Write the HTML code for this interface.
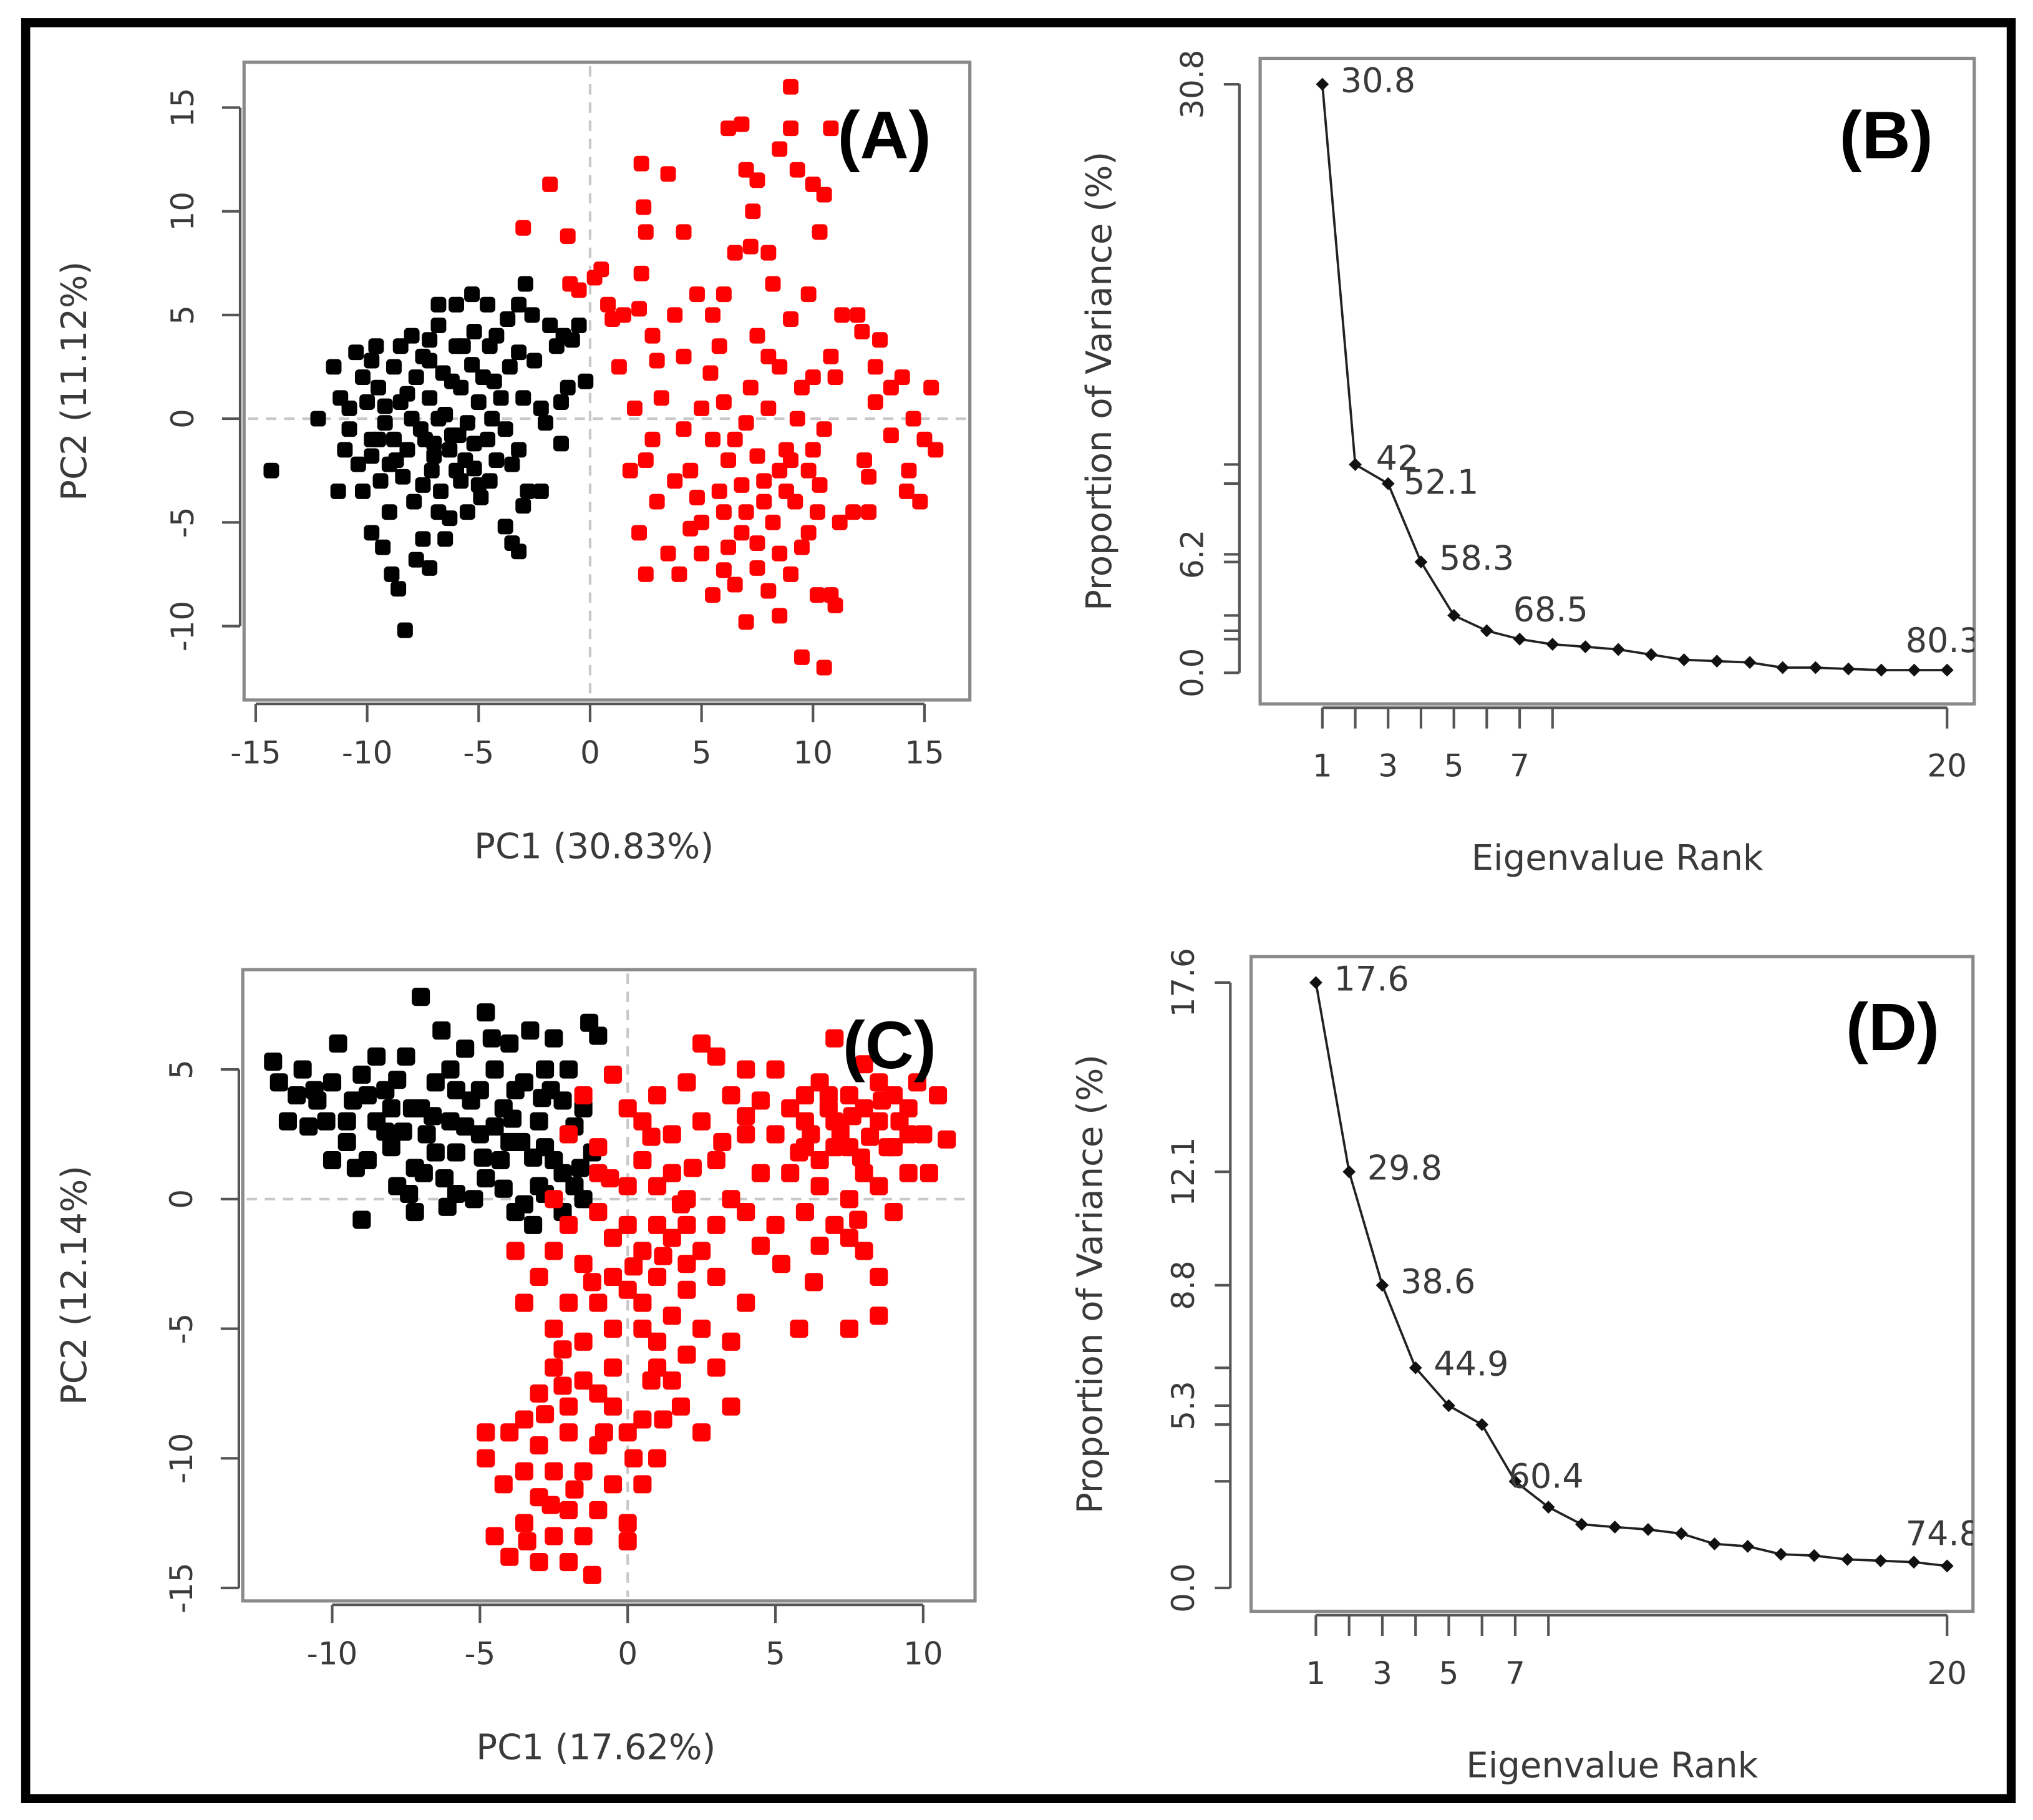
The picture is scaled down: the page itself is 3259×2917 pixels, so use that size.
<!DOCTYPE html>
<html><head><meta charset="utf-8">
<style>
html,body{margin:0;padding:0;background:#fff;}
svg{display:block;font-family:"DejaVu Sans","Liberation Sans",sans-serif;}
.tk{font-size:24px;fill:#3a3a3a;}
.ttl{font-size:27px;fill:#3a3a3a;}
.pl{font-size:52px;font-weight:bold;fill:#000;font-family:"Liberation Sans",sans-serif;}
</style></head>
<body>
<svg id="fig" width="3259" height="2917" viewBox="0 0 1568 1404" xmlns="http://www.w3.org/2000/svg">
<rect x="19.5" y="17.5" width="1532" height="1370" fill="#fff" stroke="#000" stroke-width="7"/>
</svg>
<script>
// ---------- DATA ----------
const aBlack = [[-14.3,-2.5],[-12.2,0],[-11.5,2.5],[-11.2,1],[-11,-1.5],[-11.3,-3.5],[-10.5,3.2],[-10.8,-0.5],[-10.2,2],[-10,0.8],[-10.4,-2.2],[-9.8,-1],[-9.6,3.5],[-9.5,1.5],[-9.2,-0.2],[-9.4,-3],[-9,-4.5],[-9.8,-5.5],[-9.3,-6.2],[-8.9,-7.5],[-8.6,-8.2],[-8.3,-10.2],[-8.8,2.5],[-8.5,0.8],[-8.2,-1.5],[-8.4,-2.8],[-8,4],[-7.8,2],[-7.6,-0.5],[-7.9,-4],[-7.5,-5.8],[-7.8,-6.8],[-7.2,-7.2],[-7.5,3],[-7.2,1],[-7,-1.2],[-7.1,-2.5],[-6.8,4.5],[-6.6,2.2],[-6.5,0.2],[-6.7,-3.5],[-6.3,-4.8],[-6.5,-5.8],[-6,5.5],[-6,3.5],[-5.8,1.5],[-5.9,-0.8],[-5.6,-2],[-5.8,-3],[-5.3,6],[-5.2,4.2],[-5.3,2.6],[-5,0.8],[-5.2,-1.2],[-4.9,-3.8],[-5.5,-4.5],[-4.6,5.5],[-4.5,3.5],[-4.3,1.8],[-4.4,0],[-4.2,-2],[-4.5,-3],[-3.8,-5.2],[-3.5,-6],[-3.2,-6.4],[-3.7,4.8],[-3.6,2.5],[-3.8,-0.5],[-3.2,3.2],[-3,1],[-3.2,-1.5],[-2.8,-3.5],[-3,-4.2],[-2.6,5],[-2.5,2.8],[-2.2,0.5],[-2,-0.2],[-1.8,4.5],[-1.5,3.5],[-1.3,0.8],[-1.2,4],[-0.8,3.8],[-0.5,4.5],[-2.9,6.5],[-1.3,-1.2],[-2.2,-3.5],[-1,1.5],[-0.2,1.8],[-6.3,-1.5],[-7.5,-3.2],[-8.7,-2],[-9.8,-1.8],[-10.8,0.5],[-9.5,-1],[-8,0],[-6.8,0],[-5.5,-0.2],[-4,1],[-4.8,2],[-6.2,1.8],[-7.2,3.8],[-8.5,3.5],[-10.2,-3.5],[-9,-2.2],[-7,-1.8],[-6,-2.5],[-5,-3.2],[-3.5,-2.2],[-5.7,3.5],[-6.8,5.5],[-4.2,4],[-3.2,5.5],[-8.2,1.2],[-7.4,-1],[-6.2,-0.8],[-9.2,0.6],[-8.8,-1],[-5.2,-2.4],[-4.6,-1],[-6.8,-4.5],[-7.2,2.8],[-9.8,2.8]];
const aRed = [[-3,9.2],[-1.8,11.3],[-1,8.8],[-0.9,6.5],[0.2,6.8],[0.5,7.2],[1.5,5],[0.8,5.5],[-0.5,6.2],[1,4.8],[1.3,2.5],[2.2,5.3],[2.3,7],[2.5,9],[2.4,10.2],[2.3,12.3],[2.8,4],[3.5,11.8],[3.8,5],[4.2,9],[4.8,6],[5.5,5],[5.8,3.5],[5.4,2.2],[6,6],[6.5,8],[6.2,14],[6.8,14.2],[7,12],[7.5,11.5],[7.3,10],[7.2,8.3],[8,8],[8.5,13],[9,14],[9,16],[9.3,12],[10,11.3],[10.8,14],[10.5,10.8],[10.3,9],[8.2,6.5],[12,5],[12.2,4.2],[13,3.8],[12.8,2.5],[13.5,1.5],[14,2],[14.5,0],[15,-1],[15.5,-1.5],[15.3,1.5],[14.2,-3.5],[14.3,-2.5],[13.5,-0.8],[12.5,-4.5],[11.8,-4.5],[12.3,-2],[11,2],[10,2],[9.5,1.5],[8.5,2.5],[8,3],[7.5,4],[9,4.8],[9.8,6],[11.3,5],[10.8,3],[3.2,1],[2,0.5],[2.5,-2],[1.8,-2.5],[2.2,-5.5],[3,-4],[3.5,-6.5],[4,-7.5],[2.5,-7.5],[5,-5],[5.8,-3.5],[6.2,-2],[7,-4.5],[7.5,-6],[6,-7.3],[6.5,-8],[7.5,-7.2],[8.5,-6.5],[9,-7.5],[9.2,-4],[8.5,-2.5],[8,0.5],[9.3,0],[10,-1.5],[10.3,-3.2],[9.8,-5.5],[10.2,-8.5],[10.8,-8.5],[11,-9],[9.5,-11.5],[10.5,-12],[7,-9.8],[8.5,-9.5],[5,-6.5],[4.5,-5.3],[5.5,-8.5],[6.8,-5.5],[7.8,-3],[6.5,-1],[5.5,-1],[4.5,-2.5],[3.8,-3],[4.2,-0.5],[5,0.5],[6,0.8],[7,-0.2],[8.8,-1.5],[9.8,-2.5],[10.5,-0.5],[7.5,-1.8],[6.8,-3.2],[8.2,-5],[9.5,-6.2],[6,-4.5],[4.8,-3.8],[7.2,1.5],[3,2.8],[2.8,-1],[4.2,3],[11.2,-5],[12.5,-2.8],[14.8,-4],[8,-8.3],[12.8,0.8],[7.8,-4],[8.8,-3.5],[6.2,-6.2],[9,-2],[10.2,-4.5]];
const cBlack = [[-12,5.3],[-11.8,4.5],[-11.2,4],[-11,5],[-10.5,3.8],[-10.8,2.8],[-10,4.5],[-10.2,3],[-9.8,6],[-9.5,2.2],[-9.3,3.8],[-9,4.8],[-8.8,1.5],[-8.5,3],[-8.2,4.2],[-8,2],[-7.8,0.5],[-7.5,5.5],[-7.3,3.5],[-7.2,1.2],[-7,7.8],[-6.8,2.5],[-6.5,4.5],[-6.3,6.5],[-6.2,0.8],[-6,3],[-5.8,1.8],[-5.5,5.8],[-5.3,3.8],[-5.2,0],[-5,2.5],[-4.8,7.2],[-4.5,5],[-4.3,1.5],[-4.2,3.5],[-4,6],[-3.8,-0.5],[-3.6,2.2],[-3.5,4.5],[-3.3,6.5],[-3,0.5],[-3,3],[-2.8,5],[-2.5,1.5],[-2.5,6.2],[-2.2,3.8],[-2.2,-0.5],[-2,2.5],[-2,5],[-1.8,0.5],[-1.5,3.5],[-1.3,6.8],[-1,6.3],[-1.2,1.8],[-9,-0.8],[-7.2,-0.5],[-5.8,0.2],[-3.2,-1],[-11.5,3],[-10,1.5],[-8.5,5.5],[-7,3.5],[-6,5],[-4.5,2.8],[-3.8,4.2],[-2.8,2],[-1.5,0],[-2.2,1],[-5,4.2],[-8,3.5],[-6.5,1.8],[-4.8,0.8],[-3.5,-0.2],[-9.5,3],[-8.8,4],[-7.6,2.6],[-6.9,1],[-5.5,2.8],[-4,2.2],[-3.2,1.6],[-2.6,4.2],[-4.6,6.2],[-9.2,1.2],[-8.2,2.6],[-7.8,4.6],[-6.6,3.2],[-5.8,4.2],[-4.9,1.6],[-3.9,3.1],[-2.9,3.9],[-1.8,2.8],[-10.6,4.2],[-7.4,0.2],[-6.1,-0.3],[-4.2,0.4],[-2.8,0.2],[-1.6,1.2]];
const cRed = [[-1.5,4],[-1,2],[-0.5,4.8],[0,3.5],[0.5,1.5],[1,4],[1.5,2.5],[2,4.5],[2.5,3],[2.5,6],[3,1.5],[3.5,4],[4,2.5],[4.5,3.8],[5,5],[5.5,1],[5,2.5],[6,3],[6.5,4.5],[6.5,1.5],[7,3],[7,6.2],[7.5,2],[7.5,4],[8,5.2],[8,1],[8.5,3],[8.5,4.5],[9,2],[9,-0.5],[9.5,3.5],[9.5,1],[10,2.5],[10.5,4],[10.8,2.3],[6,-0.5],[6.5,-1.8],[7,-1],[7.5,-1.5],[8,-2],[8.5,-3],[6.3,-3.2],[5.8,-5],[7.5,-5],[8.5,-4.5],[5,-1],[4,-0.5],[3,-1],[2,0],[1,0.5],[0,0.5],[-1,-0.5],[-2,-1],[-2.5,-2],[-1.5,-2.5],[-0.5,-1.5],[0.5,-2],[1.5,-1.5],[2.5,-2],[3,-3],[2,-3.5],[1,-3],[0,-3.5],[-1,-4],[-2,-4],[-3,-3],[-3.8,-2],[-3.5,-4],[-2.5,-5],[-1.5,-5.5],[-0.5,-5],[0.5,-5],[1.5,-4.5],[2.5,-5],[3.5,-5.5],[4,-4],[3,-6.5],[2,-6],[1,-6.5],[-0.5,-6.5],[-1.5,-7],[-2.5,-6.5],[2.5,-9],[3.5,-8],[1.8,-8],[0.5,-8.5],[0.2,-10],[-1,-7.5],[-2,-8],[-3,-7.5],[-3.5,-8.5],[-4,-9],[-4.8,-9],[-3,-9.5],[-2,-9],[-1,-9.5],[0,-9],[-0.5,-11],[-1.5,-10.5],[-2.5,-10.5],[-3.5,-10.5],[-4.2,-11],[-3,-11.5],[-2,-12],[-1,-12],[0,-12.5],[0.5,-11],[-1.5,-13],[-2.5,-13],[-3.5,-12.5],[-4.5,-13],[-3,-14],[-2,-14],[-1.2,-14.5],[-4,-13.8],[0,-13.2],[-4.8,-10],[1.2,-8.5],[1,-10],[0.8,-7],[-2.8,-8.3],[-1.8,-11.2],[-2.2,-7.2],[7,2],[8,3.5],[9,4],[6,2],[5.5,3.5],[7.5,0],[8.5,0.5],[4.5,1],[3.5,0],[6.5,0.5],[9.8,4.5],[10.2,1],[7.8,-0.8],[0,-1],[1,-1],[2,-1],[-1,1],[0.5,3],[1.5,1],[-0.5,-3],[0.5,-4],[2,-2.5],[1,-5.5],[-2.5,0],[-2,2.5],[3,5.5],[4,5],[6,4],[8.8,2],[9.5,2.5],[6.8,3.5],[5.2,-2.5],[4.5,-1.8],[1.5,-7],[-0.5,-8],[7.2,2.6],[8.2,2.4],[6.8,4],[7.6,3.2],[8.6,3.8],[9.2,3],[7.9,1.6],[6.2,2.5],[5.8,1.8],[4,3.2],[3.2,2.2],[2.2,1.2],[0.8,2.4],[-0.6,0.8],[1.8,-0.2],[0.2,-2.6],[-1.2,-3.2],[1.2,-2.2],[-2.2,-5.8],[-0.8,-9],[-2.6,-11.8],[-3.4,-13.2]];
const ranksB = [1,2,3,4,5,6,7,8,9,10,11,12,13,14,15,16,17,18,19,20];
const varB = [30.8,10.9,9.9,5.8,3.0,2.2,1.76,1.49,1.36,1.22,0.95,0.68,0.61,0.54,0.27,0.27,0.2,0.14,0.14,0.14];
const cumLabelsB = [["30.8",1],["42",2],["52.1",3],["58.3",4],["68.5",7],["80.3",20]];
const varD = [17.6,12.1,8.8,6.4,5.3,4.75,3.1,2.35,1.85,1.77,1.70,1.58,1.28,1.21,0.98,0.94,0.83,0.79,0.75,0.64];
const cumLabelsD = [["17.6",1],["29.8",2],["38.6",3],["44.9",4],["60.4",7],["74.8",20]];
const ticksAX = [-15,-10,-5,0,5,10,15], ticksAY = [-10,-5,0,5,10,15];
const ticksCX = [-10,-5,0,5,10], ticksCY = [-15,-10,-5,0,5];
const ticksBY = [0,6.2,30.8], ticksDY = [0,5.3,8.8,12.1,17.6];
const rankTickLabels = [1,3,5,7,20];

// ---------- DRAW ----------
const svg = document.getElementById('fig');
const NS = 'http://www.w3.org/2000/svg';
function mk(tag, attrs, parent){ const e=document.createElementNS(NS,tag); for(const k in attrs) e.setAttribute(k,attrs[k]); (parent||svg).appendChild(e); return e; }
function lin(d0,d1,p0,p1){ return v => p0 + (v-d0)*(p1-p0)/(d1-d0); }

function scatterPanel(id, box, sx, sy, xt, yt, blk, red, xTitle, yTitle, ms, label, lx, ly){
  const g = mk('g',{});
  
  
  const fr = mk('rect',{x:box[0],y:box[1],width:box[2]-box[0],height:box[3]-box[1],fill:'#fff',stroke:'#8a8a8a','stroke-width':2.5},g);
  
  
  const v0 = mk('line',{x1:sx(0),x2:sx(0),y1:box[1]+3,y2:box[3]-3,stroke:'#c8c8c8','stroke-width':2,'stroke-dasharray':'8 6'},g);
  
  
  const h0 = mk('line',{x1:box[0]+3,x2:box[2]-3,y1:sy(0),y2:sy(0),stroke:'#c8c8c8','stroke-width':2,'stroke-dasharray':'8 6'},g);
  
  
  const draw=(pts,col,nm)=>{ for(const p of pts){ const r=mk('rect',{x:sx(p[0])-ms/2,y:sy(p[1])-ms/2,width:ms,height:ms,rx:3,fill:col},g);
    
     } };
  draw(blk,'#000',id+'-black-point');
  draw(red,'#f00',id+'-red-point');
  const ay = box[3]+3;
  const xa = mk('line',{x1:sx(xt[0]),x2:sx(xt[xt.length-1]),y1:ay,y2:ay,stroke:'#555','stroke-width':2},g);
  
  
  for(const t of xt){ mk('line',{x1:sx(t),x2:sx(t),y1:ay,y2:ay+14,stroke:'#555','stroke-width':2},g);
    const tx=mk('text',{x:sx(t),y:ay+46,'text-anchor':'middle',class:'tk'},g); tx.textContent=t;
    
     }
  const ax = box[0]-3;
  const ya = mk('line',{x1:ax,x2:ax,y1:sy(yt[0]),y2:sy(yt[yt.length-1]),stroke:'#555','stroke-width':2},g);
  
  
  for(const t of yt){ mk('line',{x1:ax-14,x2:ax,y1:sy(t),y2:sy(t),stroke:'#555','stroke-width':2},g);
    const tx=mk('text',{x:0,y:0,'text-anchor':'middle',class:'tk',transform:`translate(${ax-36},${sy(t)}) rotate(-90)`},g); tx.textContent=t;
    
     }
  const xtl = mk('text',{x:(box[0]+box[2])/2-10,y:box[3]+122,'text-anchor':'middle',class:'ttl'},g); xtl.textContent=xTitle;
  
  
  const ytl = mk('text',{x:0,y:0,'text-anchor':'middle',class:'ttl',transform:`translate(66,${(box[1]+box[3])/2}) rotate(-90)`},g); ytl.textContent=yTitle;
  
  
  const pl = mk('text',{x:lx,y:ly,'text-anchor':'middle',class:'pl'},g); pl.textContent=label;
  
  
}

function screePanel(id, box, sx, sy, vals, yt, labels, label, lx, ly, lastDy, sevenDy){
  const g = mk('g',{});
  
  
  const cp = mk('clipPath',{id:id+'clip'},g);
  mk('rect',{x:box[0],y:box[1],width:box[2]-box[0],height:box[3]-box[1]},cp);
  const fr = mk('rect',{x:box[0],y:box[1],width:box[2]-box[0],height:box[3]-box[1],fill:'#fff',stroke:'#8a8a8a','stroke-width':2.5},g);
  
  
  const inner = mk('g',{'clip-path':`url(#${id}clip)`},g);
  const d = vals.map((v,i)=>(i?'L':'M')+sx(ranksB[i])+','+sy(v)).join(' ');
  const ln = mk('path',{d:d,fill:'none',stroke:'#222','stroke-width':1.8},inner);
  
  
  vals.forEach((v,i)=>{ const x=sx(ranksB[i]), y=sy(v);
    const p=mk('path',{d:`M${x},${y-5} L${x+5},${y} L${x},${y+5} L${x-5},${y} Z`,fill:'#111'},inner);
    
     });
  for(const [txt,r] of labels){ const v=vals[r-1];
    let x=sx(r)+14, y=sy(v)+6;
    if(r===7){ x=sx(r)-5; y=sy(v)+sevenDy; }
    if(r===20){ x=sx(r)-32; y=sy(v)+lastDy; }
    if(r===2 && id==='panel-b'){ x=sx(r)+16; y=sy(v)+4; }
    if(r===3 && id==='panel-b'){ x=sx(r)+12; y=sy(v)+8; }
    const t=mk('text',{x:x,y:y,class:'tk',style:'font-size:26px'},inner); t.textContent=txt;
    
     }
  const ay = box[3]+3;
  const xa = mk('line',{x1:sx(1),x2:sx(20),y1:ay,y2:ay,stroke:'#555','stroke-width':2},g);
  
  
  for(const r of [1,2,3,4,5,6,7,8,20]) mk('line',{x1:sx(r),x2:sx(r),y1:ay,y2:ay+16,stroke:'#555','stroke-width':2},g);
  for(const r of rankTickLabels){ const t=mk('text',{x:sx(r),y:ay+53,'text-anchor':'middle',class:'tk'},g); t.textContent=r;
    
     }
  const ax = box[0]-16;
  const ya = mk('line',{x1:ax,x2:ax,y1:sy(0),y2:sy(vals[0]),stroke:'#555','stroke-width':2},g);
  
  
  const minor = vals.slice(0,7);
  for(const v of minor) mk('line',{x1:ax-12,x2:ax,y1:sy(v),y2:sy(v),stroke:'#555','stroke-width':2},g);
  for(const t of yt){ mk('line',{x1:ax-12,x2:ax,y1:sy(t),y2:sy(t),stroke:'#555','stroke-width':2},g);
    const tx=mk('text',{x:0,y:0,'text-anchor':'middle',class:'tk',transform:`translate(${ax-28},${sy(t)}) rotate(-90)`},g); tx.textContent=t.toFixed(1);
    
     }
  const xtl = mk('text',{x:(box[0]+box[2])/2,y:box[3]+128,'text-anchor':'middle',class:'ttl'},g); xtl.textContent='Eigenvalue Rank';
  
  
  const ytl = mk('text',{x:0,y:0,'text-anchor':'middle',class:'ttl',transform:`translate(${box[0]-115},${(box[1]+box[3])/2}) rotate(-90)`},g); ytl.textContent='Proportion of Variance (%)';
  
  
  const pl = mk('text',{x:lx,y:ly,'text-anchor':'middle',class:'pl'},g); pl.textContent=label;
  
  
}

scatterPanel('panel-a',[188,48,748,540], lin(0,15,455,713), lin(0,15,323,83), ticksAX, ticksAY, aBlack, aRed, 'PC1 (30.83%)','PC2 (11.12%)', 12, '(A)', 682, 122);
scatterPanel('panel-c',[187,748,752,1235], lin(0,10,484,712), lin(0,5,925,825), ticksCX, ticksCY, cBlack, cRed, 'PC1 (17.62%)','PC2 (12.14%)', 14, '(C)', 686, 824);
screePanel('panel-b',[972,45,1523,543], lin(1,20,1020,1502), lin(0,30.8,519,65), varB, ticksBY, cumLabelsB, '(B)', 1455, 122, -14, -14);
screePanel('panel-d',[965,738,1522,1243], lin(1,20,1015,1502), lin(0,17.6,1225,758), varD, ticksDY, cumLabelsD, '(D)', 1460, 810, -16, 5);
</script>
</body></html>
